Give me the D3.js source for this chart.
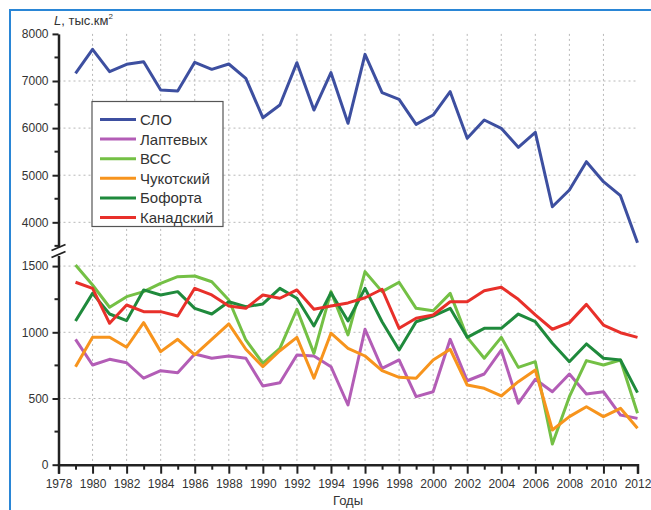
<!DOCTYPE html>
<html>
<head>
<meta charset="utf-8">
<script src="https://cdn.jsdelivr.net/npm/d3@7"></script>
<style>
  body { margin: 0; background: #fff; }
  text { font-family: "Liberation Sans", Arial, sans-serif; }
</style>
</head>
<body>
<div id="chart"></div>
<script>
const years = d3.range(1979, 2013);

const seriesNames = ['СЛО', 'Лаптевых', 'ВСС', 'Чукотский', 'Бофорта', 'Канадский'];
const seriesColors = ['#3d4fa0', '#b35db6', '#74c045', '#f7941d', '#1f8a3c', '#e8302a'];

// L, тыс.км2 per year 1979..2012
const sloValues = [7163, 7673, 7198, 7354, 7410, 6809, 6788, 7396, 7248, 7361, 7057, 6221, 6490, 7389, 6384, 7177, 6102,
  7566, 6752, 6611, 6080, 6278, 6773, 5783, 6172, 5996, 5592, 5911, 4331, 4686, 5287, 4862, 4565, 3567];
const laptevValues = [947, 753, 796, 770, 653, 710, 695, 836, 804, 821, 804, 594, 619, 829, 821, 740, 451,
  1023, 728, 791, 514, 551, 947, 634, 685, 866, 464, 645, 551, 685, 534, 551, 375, 350];
const vssValues = [1508, 1357, 1189, 1269, 1307, 1370, 1420, 1425, 1382, 1244, 942, 766, 879, 1174, 841, 1307, 980,
  1458, 1307, 1378, 1181, 1163, 1294, 962, 804, 962, 735, 778, 156, 514, 786, 753, 791, 388];
const chukValues = [740, 962, 962, 887, 1073, 854, 947, 829, 947, 1063, 872, 740, 861, 962, 653, 993, 879,
  821, 710, 660, 653, 791, 872, 602, 577, 519, 627, 715, 262, 363, 438, 363, 426, 275];
const beaufortValues = [1085, 1294, 1138, 1088, 1320, 1282, 1307, 1181, 1138, 1231, 1193, 1214, 1332, 1257, 1048, 1299, 1085,
  1332, 1080, 866, 1080, 1123, 1181, 962, 1030, 1030, 1138, 1080, 917, 778, 912, 804, 791, 544];
const canadValues = [1378, 1332, 1068, 1206, 1156, 1156, 1123, 1332, 1282, 1199, 1181, 1282, 1257, 1320, 1174, 1199, 1222,
  1261, 1325, 1030, 1106, 1131, 1231, 1231, 1314, 1340, 1249, 1131, 1023, 1073, 1211, 1055, 997, 962];

const seriesValues = [sloValues, laptevValues, vssValues, chukValues, beaufortValues, canadValues];

const upperTicks = [4000, 5000, 6000, 7000, 8000];
const upperMinor = [3500, 4500, 5500, 6500, 7500];
const lowerTicks = [0, 500, 1000, 1500];
const lowerMinor = [250, 750, 1250];

const width = 651;
const height = 510;

const svg = d3.select('#chart')
  .append('svg')
  .attr('width', width)
  .attr('height', height);

// frame
svg.append('rect')
  .attr('x', 10)
  .attr('y', 10)
  .attr('width', 700)
  .attr('height', 600)
  .attr('fill', 'none')
  .attr('stroke', '#2a86d6')
  .attr('stroke-width', 2);

const x = d3.scaleLinear().domain([1978, 2012]).range([58.5, 637.5]);
const yTop = d3.scaleLinear().domain([3476, 8000]).range([247, 33.9]);
const yBot = d3.scaleLinear().domain([0, 1580]).range([464.7, 255.5]);

// grid
const grid = svg.append('g')
  .attr('stroke', '#b8b8b8')
  .attr('stroke-width', 1)
  .attr('stroke-dasharray', '2,3');

grid.selectAll('line.v')
  .data(d3.range(1980, 2012, 2))
  .enter().append('line')
  .attr('x1', d => x(d))
  .attr('x2', d => x(d))
  .attr('y1', yTop(8000))
  .attr('y2', yBot(0));

grid.selectAll('line.ht')
  .data([4000, 5000, 6000, 7000])
  .enter().append('line')
  .attr('x1', x(1978))
  .attr('x2', x(2012))
  .attr('y1', d => yTop(d))
  .attr('y2', d => yTop(d));

grid.selectAll('line.hb')
  .data([500, 1000, 1500])
  .enter().append('line')
  .attr('x1', x(1978))
  .attr('x2', x(2012))
  .attr('y1', d => yBot(d))
  .attr('y2', d => yBot(d));

// series
const line = (scale) => d3.line()
  .x((d, i) => x(years[i]))
  .y(d => scale(d));

seriesValues.forEach((vals, i) => {
  svg.append('path')
    .datum(vals)
    .attr('fill', 'none')
    .attr('stroke', seriesColors[i])
    .attr('stroke-width', 3)
    .attr('stroke-linejoin', 'round')
    .attr('d', line(i === 0 ? yTop : yBot));
});

// x axis
const xAxis = svg.append('g')
  .attr('transform', `translate(0,${yBot(0)})`)
  .call(d3.axisBottom(x)
    .tickValues(d3.range(1978, 2013))
    .tickSize(9)
    .tickPadding(6)
    .tickFormat(d => d % 2 === 0 ? d : ''));

xAxis.select('.domain').attr('stroke', '#222').attr('stroke-width', 2.5);
xAxis.selectAll('.tick line').attr('stroke', '#222').attr('stroke-width', 2)
  .attr('y2', d => d % 2 === 0 ? 9 : 5);
xAxis.selectAll('.tick text')
  .attr('font-size', 12)
  .attr('fill', '#333')
  .attr('font-family', '"Liberation Sans", Arial, sans-serif');

// y axes (two segments)
function yAxisPart(scale, major, minor) {
  const g = svg.append('g').attr('transform', `translate(${x(1978)},0)`);
  g.call(d3.axisLeft(scale)
    .tickValues(major)
    .tickFormat(d3.format('d'))
    .tickSize(6)
    .tickPadding(4)
    .tickSizeOuter(0));
  g.select('.domain').attr('stroke', '#222').attr('stroke-width', 2.5);
  g.selectAll('.tick line').attr('stroke', '#222').attr('stroke-width', 2);
  g.selectAll('.tick text')
    .attr('font-size', 12)
    .attr('fill', '#333')
    .attr('font-family', '"Liberation Sans", Arial, sans-serif');
  g.selectAll('line.minor')
    .data(minor)
    .enter().append('line')
    .attr('x1', -4)
    .attr('x2', 0)
    .attr('y1', d => scale(d))
    .attr('y2', d => scale(d))
    .attr('stroke', '#222')
    .attr('stroke-width', 2);
  return g;
}
yAxisPart(yTop, upperTicks, upperMinor);
yAxisPart(yBot, lowerTicks, lowerMinor);

// break marks
const brk = svg.append('g').attr('stroke', '#222').attr('stroke-width', 1.8);
[247.5, 254.5].forEach(yy => {
  brk.append('line')
    .attr('x1', x(1978) - 7).attr('y1', yy + 3)
    .attr('x2', x(1978) + 7).attr('y2', yy - 3);
});

// axis titles
const yTitle = svg.append('text')
  .attr('x', 54)
  .attr('y', 25)
  .attr('font-size', 13)
  .attr('fill', '#333');
yTitle.append('tspan').attr('font-style', 'italic').text('L');
yTitle.append('tspan').text(', тыс.км');
yTitle.append('tspan').attr('font-size', 8).attr('dy', -6).text('2');

svg.append('text')
  .attr('x', (x(1978) + x(2012)) / 2)
  .attr('y', 505)
  .attr('text-anchor', 'middle')
  .attr('font-size', 13)
  .attr('fill', '#333')
  .text('Годы');

// legend
const legend = svg.append('g').attr('transform', 'translate(92,101.5)');
legend.append('rect')
  .attr('width', 131)
  .attr('height', 125)
  .attr('fill', '#fff')
  .attr('stroke', '#555')
  .attr('stroke-width', 1.2);

legend.selectAll('line')
  .data(seriesNames)
  .enter().append('line')
  .attr('x1', 8)
  .attr('x2', 44)
  .attr('y1', (d, i) => 18 + i * 19.6)
  .attr('y2', (d, i) => 18 + i * 19.6)
  .attr('stroke', (d, i) => seriesColors[i])
  .attr('stroke-width', 3);

legend.selectAll('text')
  .data(seriesNames)
  .enter().append('text')
  .attr('x', 48)
  .attr('y', (d, i) => 18 + i * 19.6 + 5.5)
  .attr('font-size', 15)
  .attr('fill', '#333')
  .text(d => d);
</script>
</body>
</html>
